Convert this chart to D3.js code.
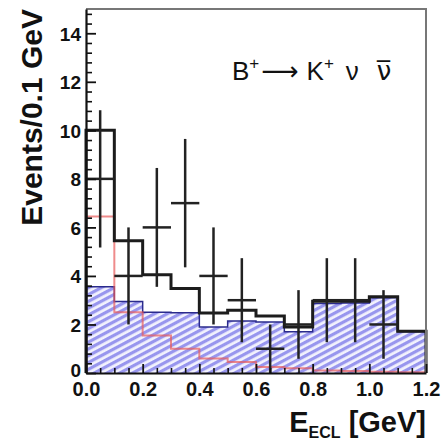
<!DOCTYPE html>
<html>
<head>
<meta charset="utf-8">
<script src="https://cdn.jsdelivr.net/npm/d3@7"></script>
<style>
  body { margin: 0; background: #fff; }
  text { font-family: "Liberation Sans", Arial, sans-serif; }
</style>
</head>
<body>
<div id="chart"></div>
<script>
// Bin edges (GeV), 0.1 GeV wide
const binLow = [0.0, 0.1, 0.2, 0.3, 0.4, 0.5, 0.6, 0.7, 0.8, 0.9, 1.0, 1.1];
const binWidth = 0.1;

// Background (blue hatched)
const background = [3.55, 2.95, 2.5, 2.48, 1.9, 2.14, 2.1, 1.7, 2.86, 2.88, 3.1, 1.7];
// Signal (red)
const signal = [6.45, 2.5, 1.55, 1.0, 0.6, 0.45, 0.25, 0.2, 0.1, 0.08, 0.05, 0.03];
// Total (black histogram)
const total = [10.0, 5.45, 4.05, 3.48, 2.47, 2.59, 2.35, 1.9, 2.96, 2.96, 3.14, 1.72];
// Data points (events per bin)
const dataCounts = [8, 4, 6, 7, 4, 3, 1, 2, 3, 3, 2, 0];

const yMajor = [0, 2, 4, 6, 8, 10, 12, 14];
const xMajor = [0.0, 0.2, 0.4, 0.6, 0.8, 1.0, 1.2];

const W = 441, H = 442;
const margin = { top: 9, right: 15, bottom: 69, left: 86 };

const svg = d3.select("#chart").append("svg")
    .attr("width", W)
    .attr("height", H);

const x = d3.scaleLinear().domain([0, 1.2]).range([margin.left, W - margin.right]);
const y = d3.scaleLinear().domain([0, 15]).range([H - margin.bottom, margin.top]);

// hatch pattern for the background
const defs = svg.append("defs");
const pat = defs.append("pattern")
    .attr("id", "hatch")
    .attr("patternUnits", "userSpaceOnUse")
    .attr("width", 12)
    .attr("height", 6)
    .attr("patternTransform", "rotate(-28)");
pat.append("rect").attr("width", 12).attr("height", 6).attr("fill", "#f2f2fd");
pat.append("rect").attr("y", 0).attr("width", 12).attr("height", 3.2).attr("fill", "#9896ee");

// histogram outline helper
function histPoints(vals) {
    const pts = [[binLow[0], 0]];
    vals.forEach((v, i) => pts.push([binLow[i], v]));
    const last = binLow.length - 1;
    pts.push([binLow[last] + binWidth, vals[last]]);
    pts.push([binLow[last] + binWidth, 0]);
    return pts;
}

const step = d3.line()
    .x(d => x(d[0]))
    .y(d => y(d[1]))
    .curve(d3.curveStepAfter);

// background fill
svg.append("path")
    .attr("d", step(histPoints(background)) + "Z")
    .attr("fill", "url(#hatch)")
    .attr("stroke", "none");

// background outline
svg.append("path")
    .attr("d", step(histPoints(background)))
    .attr("fill", "none")
    .attr("stroke", "#2a2a8c")
    .attr("stroke-width", 1.5);

// signal
svg.append("path")
    .attr("d", step(histPoints(signal)))
    .attr("fill", "none")
    .attr("stroke", "#e85a5a")
    .attr("stroke-opacity", 0.7)
    .attr("stroke-width", 2);

// total
svg.append("path")
    .attr("d", step(histPoints(total)))
    .attr("fill", "none")
    .attr("stroke", "#1c1c1c")
    .attr("stroke-width", 3);

// data points with sqrt(N) errors
const pts = dataCounts.map((n, i) => ({ lo: binLow[i], n: n }))
    .filter(d => d.n > 0);

const cross = svg.append("g")
    .attr("stroke", "#222")
    .attr("stroke-width", 2.5);

cross.selectAll(".hbar")
    .data(pts)
    .enter()
    .append("line")
    .attr("x1", d => x(d.lo))
    .attr("x2", d => x(d.lo + binWidth))
    .attr("y1", d => y(d.n))
    .attr("y2", d => y(d.n));

cross.selectAll(".vbar")
    .data(pts)
    .enter()
    .append("line")
    .attr("x1", d => x(d.lo + binWidth / 2))
    .attr("x2", d => x(d.lo + binWidth / 2))
    .attr("y1", d => y(d.n + Math.sqrt(d.n)))
    .attr("y2", d => y(Math.max(0, d.n - Math.sqrt(d.n))));

// frame (top & right)
svg.append("path")
    .attr("d", `M${x(0)},${y(15)}H${x(1.2)}V${y(0)}`)
    .attr("fill", "none")
    .attr("stroke", "#777")
    .attr("stroke-width", 2);

// axes
const fmtX = d3.format(".1f");

const yMinor = d3.range(0, 15.01, 0.4).filter(v => Math.abs(v / 2 - Math.round(v / 2)) > 1e-6);
svg.append("g")
    .attr("transform", `translate(${x(0)},0)`)
    .call(d3.axisLeft(y).tickValues(yMinor).tickSize(-6).tickFormat(""))
    .call(g => g.select(".domain").remove())
    .call(g => g.selectAll("line").attr("stroke", "#111").attr("stroke-width", 1.6));

svg.append("g")
    .attr("transform", `translate(${x(0)},0)`)
    .call(d3.axisLeft(y).tickValues(yMajor).tickSize(-10).tickSizeOuter(0).tickPadding(5))
    .call(g => g.select(".domain").attr("stroke", "#111").attr("stroke-width", 2.2))
    .call(g => g.selectAll("line").attr("stroke", "#111").attr("stroke-width", 1.8))
    .call(g => g.selectAll("text")
        .attr("font-size", 19)
        .attr("font-weight", "bold")
        .attr("fill", "#111")
        .attr("dy", d => d === 0 ? "0.2em" : "0.36em"));

const xMinor = d3.range(0, 1.2001, 0.05).filter(v => Math.abs(v / 0.2 - Math.round(v / 0.2)) > 1e-6);
svg.append("g")
    .attr("transform", `translate(0,${y(0)})`)
    .call(d3.axisBottom(x).tickValues(xMinor).tickSize(-5).tickFormat(""))
    .call(g => g.select(".domain").remove())
    .call(g => g.selectAll("line").attr("stroke", "#111").attr("stroke-width", 1.6));

svg.append("g")
    .attr("transform", `translate(0,${y(0)})`)
    .call(d3.axisBottom(x).tickValues(xMajor).tickFormat(fmtX).tickSize(-9).tickSizeOuter(0).tickPadding(6))
    .call(g => g.select(".domain").attr("stroke", "#111").attr("stroke-width", 2.2))
    .call(g => g.selectAll("line").attr("stroke", "#111").attr("stroke-width", 1.8))
    .call(g => g.selectAll("text")
        .attr("font-size", 20)
        .attr("font-weight", "bold")
        .attr("fill", "#111")
        .attr("dy", "0.85em"));

// axis titles
const xt = svg.append("text")
    .attr("x", x(1.2))
    .attr("y", 432)
    .attr("text-anchor", "end")
    .attr("font-size", 29)
    .attr("font-weight", "bold")
    .attr("fill", "#111");
xt.append("tspan").text("E");
xt.append("tspan").attr("font-size", 16).attr("dy", 6).text("ECL");
xt.append("tspan").attr("dy", -6).text(" [GeV]");

svg.append("text")
    .attr("transform", "rotate(-90)")
    .attr("x", -y(15))
    .attr("y", 42)
    .attr("text-anchor", "end")
    .attr("font-size", 30)
    .attr("font-weight", "bold")
    .attr("fill", "#111")
    .text("Events/0.1 GeV");

// decay label
const lab = svg.append("text")
    .attr("x", 232)
    .attr("y", 80)
    .attr("font-size", 26)
    .attr("fill", "#111");
lab.append("tspan").text("B");
lab.append("tspan").attr("font-size", 17).attr("dy", -11).text("+");
lab.append("tspan").attr("dy", 11).attr("dx", 2)
    .style("font-family", "'DejaVu Sans'").text("\u27f6");
lab.append("tspan").attr("dx", 8).text("K");
lab.append("tspan").attr("font-size", 17).attr("dy", -11).text("+");
lab.append("tspan").attr("dy", 11).attr("dx", 12).text("\u03bd");
lab.append("tspan").attr("dx", 18)
    .style("font-family", "'DejaVu Sans'").text("\u03bd\u0305");
</script>
</body>
</html>
